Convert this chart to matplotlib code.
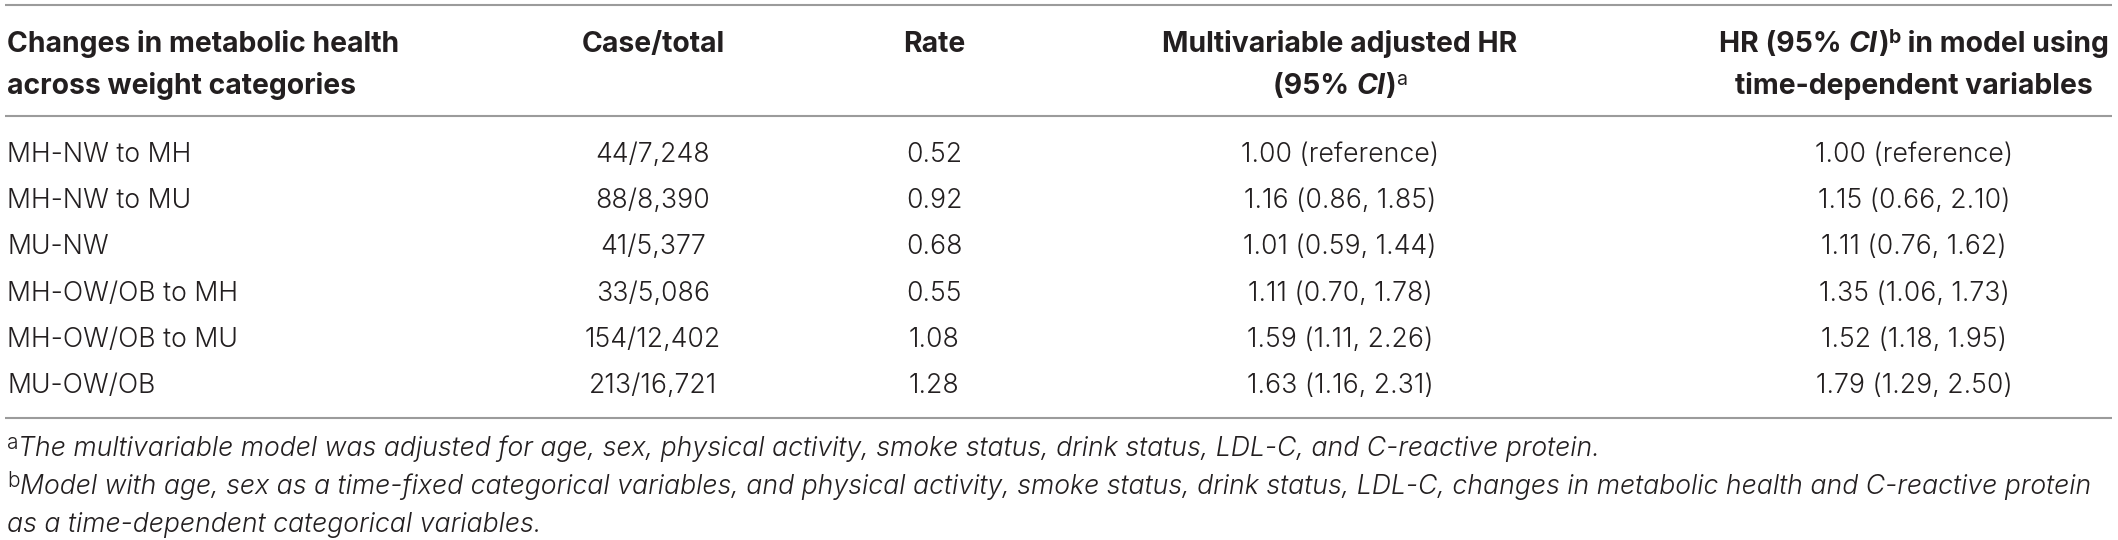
import matplotlib
matplotlib.use("Agg")
import matplotlib.pyplot as plt

# ---------------- data ----------------
col_headers_1 = ["Changes in metabolic health", "Case/total", "Rate",
                 "Multivariable adjusted HR", "HR (95% CI)b in model using"]
categories = ["MH-NW to MH", "MH-NW to MU", "MU-NW", "MH-OW/OB to MH",
              "MH-OW/OB to MU", "MU-OW/OB"]
case_total = ["44/7,248", "88/8,390", "41/5,377", "33/5,086", "154/12,402", "213/16,721"]
rates = ["0.52", "0.92", "0.68", "0.55", "1.08", "1.28"]
hr_adjusted = ["1.00 (reference)", "1.16 (0.86, 1.85)", "1.01 (0.59, 1.44)",
               "1.11 (0.70, 1.78)", "1.59 (1.11, 2.26)", "1.63 (1.16, 2.31)"]
hr_time_dep = ["1.00 (reference)", "1.15 (0.66, 2.10)", "1.11 (0.76, 1.62)",
               "1.35 (1.06, 1.73)", "1.52 (1.18, 1.95)", "1.79 (1.29, 2.50)"]
footnote_a = ("The multivariable model was adjusted for age, sex, physical activity, "
              "smoke status, drink status, LDL-C, and C-reactive protein.")
footnote_b1 = ("Model with age, sex as a time-fixed categorical variables, and physical "
               "activity, smoke status, drink status, LDL-C, changes in metabolic health "
               "and C-reactive protein")
footnote_b2 = "as a time-dependent categorical variables."

# ---------------- styling ----------------
W, H = 2118, 540
TXT = "#231f20"
RULE = "#9b9b9b"
FAM = ["Inter", "DejaVu Sans"]
BODY = dict(family=FAM, weight=300, fontsize=19.2, color=TXT)
HEAD = dict(family=FAM, weight="bold", fontsize=20.4, color=TXT)
FOOT = dict(family=FAM, weight=300, style="italic", fontsize=19.2, color=TXT)

fig = plt.figure(figsize=(W / 100, H / 100), dpi=100)
ax = fig.add_axes([0, 0, 1, 1])
ax.set_xlim(0, W)
ax.set_ylim(H, 0)
ax.axis("off")
renderer = fig.canvas.get_renderer()


def segments(x, y, segs, ha="left"):
    """Draw a run of differently styled text pieces on one baseline."""
    objs = []
    for txt, kw, dy in segs:
        t = ax.text(0, y - dy, txt, va="baseline", ha="left", **kw)
        objs.append(t)
    widths = [t.get_window_extent(renderer).width for t in objs]
    total = sum(widths)
    if ha == "center":
        cur = x - total / 2
    elif ha == "right":
        cur = x - total
    else:
        cur = x
    for t, w in zip(objs, widths):
        t.set_x(cur)
        cur += w


# rules
x0, x1 = 5, 2112
for yy in (5, 116, 418):
    ax.plot([x0, x1], [yy, yy], color=RULE, lw=1.5, solid_capstyle="butt")

# column positions
col_left = 7
col_case = 653
col_rate = 934
col_hr1 = 1340
col_hr2 = 1914
hl1, hl2 = 52, 94

# headers
ax.text(col_left, hl1, col_headers_1[0], va="baseline", ha="left", **HEAD)
ax.text(col_left, hl2, "across weight categories", va="baseline", ha="left", **HEAD)
ax.text(col_case, hl1, col_headers_1[1], va="baseline", ha="center", **HEAD)
ax.text(col_rate, hl1, col_headers_1[2], va="baseline", ha="center", **HEAD)
ax.text(col_hr1, hl1, col_headers_1[3], va="baseline", ha="center", **HEAD)

HEAD_IT = dict(HEAD, style="italic")
SUP = dict(HEAD, fontsize=14)
SUP_L = dict(BODY, weight=400, fontsize=14)
segments(col_hr1, hl2, [("(95% ", HEAD, 0), ("CI", HEAD_IT, 0), (")", HEAD, 0),
                        ("a", SUP_L, 9)], ha="center")
segments(col_hr2, hl1, [("HR (95% ", HEAD, 0), ("CI", HEAD_IT, 0), (")", HEAD, 0),
                        ("b", SUP, 9), (" in model using", HEAD, 0)], ha="center")
ax.text(col_hr2, hl2, "time-dependent variables", va="baseline", ha="center", **HEAD)

# body rows
row0, row_step = 162, 46.2
for i in range(len(categories)):
    yb = row0 + i * row_step
    ax.text(col_left, yb, categories[i], va="baseline", ha="left", **BODY)
    ax.text(col_case, yb, case_total[i], va="baseline", ha="center", **BODY)
    ax.text(col_rate, yb, rates[i], va="baseline", ha="center", **BODY)
    ax.text(col_hr1, yb, hr_adjusted[i], va="baseline", ha="center", **BODY)
    ax.text(col_hr2, yb, hr_time_dep[i], va="baseline", ha="center", **BODY)

# footnotes
FSUP = dict(FOOT, style="normal", fontsize=15)
segments(col_left, 456, [("a", FSUP, 7), (footnote_a, FOOT, 0)])
segments(col_left, 494, [("b", FSUP, 7), (footnote_b1, FOOT, 0)])
ax.text(col_left, 532, footnote_b2, va="baseline", ha="left", **FOOT)

fig.savefig("out.png", dpi=100)
